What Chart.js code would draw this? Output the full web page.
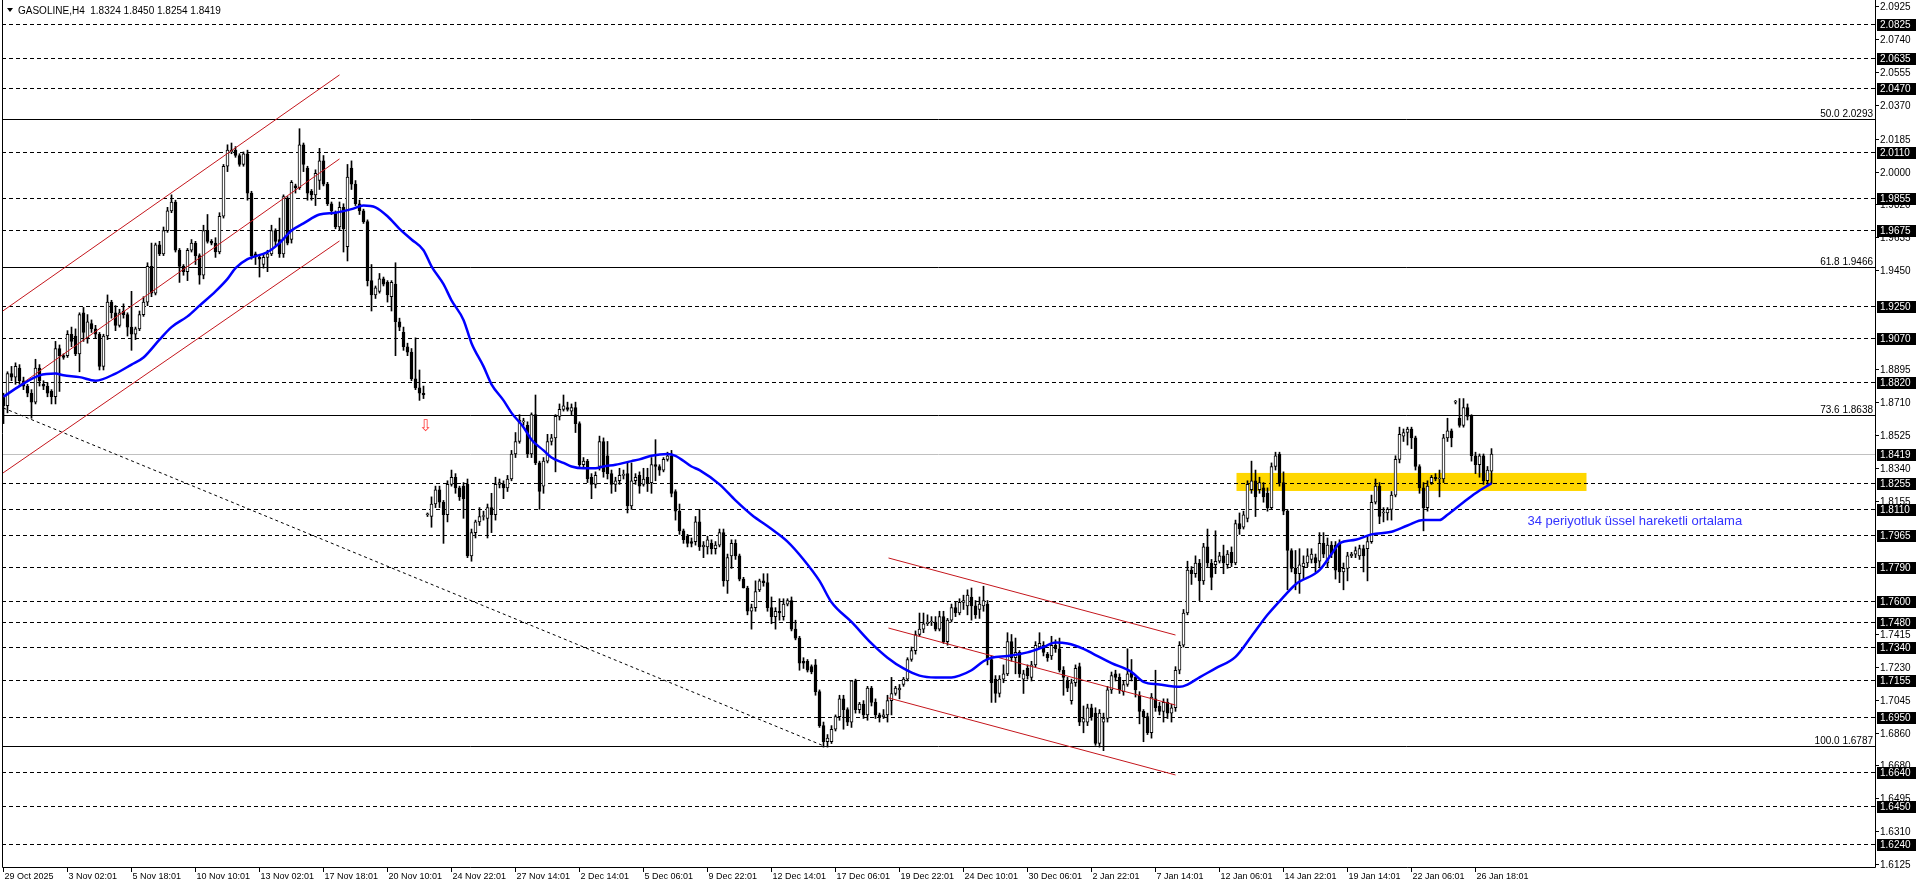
<!DOCTYPE html>
<html>
<head>
<meta charset="utf-8">
<title>GASOLINE,H4</title>
<script src="https://cdn.jsdelivr.net/npm/chart.js@4.4.1/dist/chart.umd.min.js"></script>
<style>
    html, body { margin: 0; padding: 0; background: #ffffff; }
    canvas { display: block; }
</style>
</head>
<body>
<canvas id="priceChart" width="1916" height="888"></canvas>
<script>
// H4 candles (bar 0 = 29 Oct 2025)
const opens = [
    1.874,1.869,1.887,1.885,1.890,1.883,1.880,1.876,1.871,1.890,
    1.881,1.880,1.877,1.874,1.901,1.897,1.897,1.909,1.908,1.898,
    1.921,1.907,1.915,1.912,1.909,1.891,1.908,1.927,1.921,1.914,
    1.922,1.920,1.913,1.909,1.912,1.920,1.927,1.947,1.932,1.959,
    1.954,1.967,1.978,1.983,1.956,1.947,1.944,1.956,1.960,1.953,
    1.942,1.967,1.961,1.960,1.955,1.975,2.003,2.011,2.012,2.009,
    2.004,2.010,1.988,1.954,1.952,1.948,1.952,1.954,1.967,1.962,
    1.954,1.985,1.962,1.992,1.991,2.015,2.002,1.989,1.987,1.995,
    2.006,1.993,1.982,1.977,1.969,1.980,1.958,2.002,1.993,1.982,
    1.978,1.972,1.939,1.931,1.933,1.940,1.938,1.930,1.937,1.916,
    1.910,1.902,1.899,1.884,1.879,1.876,1.808,1.807,1.814,1.822,
    1.815,1.808,1.825,1.829,1.823,1.824,1.825,1.785,1.798,1.804,
    1.807,1.806,1.812,1.808,1.825,1.825,1.823,1.828,1.842,1.849,
    1.860,1.858,1.842,1.864,1.837,1.824,1.838,1.849,1.851,1.863,
    1.867,1.868,1.866,1.868,1.859,1.836,1.838,1.829,1.825,1.835,
    1.849,1.841,1.831,1.825,1.827,1.830,1.831,1.813,1.827,1.830,
    1.825,1.829,1.826,1.836,1.835,1.833,1.839,1.841,1.821,1.810,
    1.799,1.796,1.793,1.793,1.804,1.790,1.790,1.792,1.789,1.791,
    1.798,1.771,1.785,1.792,1.785,1.772,1.767,1.754,1.756,1.766,
    1.771,1.770,1.756,1.751,1.754,1.751,1.758,1.760,1.744,1.739,
    1.726,1.726,1.723,1.724,1.709,1.690,1.681,1.681,1.688,1.695,
    1.705,1.699,1.692,1.715,1.699,1.702,1.696,1.711,1.703,1.696,
    1.695,1.696,1.704,1.708,1.710,1.713,1.716,1.727,1.732,1.741,
    1.744,1.747,1.748,1.748,1.744,1.751,1.737,1.749,1.756,1.753,
    1.759,1.757,1.762,1.757,1.755,1.757,1.758,1.727,1.716,1.708,
    1.716,1.719,1.737,1.728,1.731,1.716,1.722,1.717,1.724,1.734,
    1.735,1.730,1.729,1.735,1.733,1.721,1.715,1.704,1.714,1.723,
    1.692,1.692,1.700,1.697,1.680,1.692,1.694,1.710,1.719,1.717,
    1.709,1.713,1.720,1.717,1.707,1.698,1.695,1.686,1.705,1.701,
    1.698,1.703,1.697,1.700,1.721,1.735,1.753,1.777,1.775,1.781,
    1.771,1.790,1.781,1.780,1.782,1.785,1.780,1.787,1.781,1.803,
    1.801,1.806,1.822,1.827,1.822,1.823,1.820,1.812,1.835,1.842,
    1.826,1.810,1.788,1.778,1.775,1.779,1.781,1.783,1.784,1.782,
    1.792,1.781,1.791,1.791,1.792,1.776,1.778,1.785,1.786,1.785,
    1.789,1.789,1.793,1.815,1.824,1.809,1.809,1.811,1.819,1.839,
    1.852,1.854,1.856,1.851,1.835,1.823,1.812,1.826,1.829,1.828,
    1.828,1.851,1.855,1.871,1.862,1.858,1.868,1.863,1.841,1.836,
    1.841,1.827,1.8324
];
const highs = [
    1.876,1.888,1.891,1.893,1.892,1.885,1.881,1.878,1.895,1.892,
    1.883,1.882,1.878,1.905,1.903,1.898,1.911,1.913,1.912,1.921,
    1.924,1.920,1.917,1.914,1.910,1.909,1.931,1.928,1.925,1.923,
    1.926,1.921,1.933,1.913,1.922,1.930,1.949,1.960,1.960,1.961,
    1.969,1.980,1.987,1.984,1.957,1.948,1.957,1.962,1.961,1.954,
    1.970,1.976,1.962,1.963,1.977,2.004,2.015,2.016,2.014,2.010,
    2.011,2.012,1.989,1.955,1.953,1.954,1.956,1.970,1.968,1.974,
    1.987,1.986,1.995,1.993,2.024,2.016,2.003,1.990,2.001,2.013,
    2.009,1.994,1.983,1.978,1.983,1.982,2.004,2.006,1.995,1.984,
    1.979,1.973,1.948,1.936,1.943,1.941,1.939,1.939,1.949,1.918,
    1.913,1.904,1.901,1.907,1.889,1.880,1.809,1.818,1.824,1.824,
    1.816,1.827,1.833,1.831,1.824,1.826,1.828,1.800,1.805,1.812,
    1.810,1.814,1.820,1.829,1.828,1.827,1.830,1.844,1.854,1.864,
    1.862,1.860,1.865,1.875,1.838,1.840,1.853,1.853,1.864,1.870,
    1.875,1.871,1.870,1.871,1.860,1.840,1.839,1.831,1.832,1.852,
    1.851,1.849,1.833,1.829,1.834,1.833,1.837,1.837,1.831,1.832,
    1.834,1.834,1.840,1.850,1.836,1.840,1.843,1.844,1.822,1.814,
    1.800,1.797,1.795,1.807,1.811,1.793,1.796,1.794,1.793,1.800,
    1.800,1.786,1.794,1.794,1.786,1.773,1.768,1.758,1.771,1.772,
    1.775,1.775,1.762,1.756,1.761,1.761,1.761,1.762,1.749,1.740,
    1.728,1.727,1.724,1.727,1.710,1.692,1.685,1.690,1.696,1.707,
    1.707,1.700,1.715,1.716,1.703,1.704,1.712,1.712,1.705,1.697,
    1.699,1.707,1.717,1.712,1.713,1.717,1.728,1.734,1.743,1.753,
    1.753,1.752,1.751,1.751,1.754,1.754,1.750,1.758,1.759,1.761,
    1.763,1.766,1.767,1.760,1.762,1.768,1.760,1.729,1.718,1.718,
    1.724,1.742,1.741,1.739,1.732,1.721,1.724,1.726,1.737,1.742,
    1.737,1.731,1.740,1.738,1.739,1.723,1.717,1.716,1.724,1.725,
    1.701,1.702,1.702,1.700,1.699,1.697,1.712,1.720,1.721,1.719,
    1.715,1.733,1.727,1.718,1.709,1.699,1.697,1.708,1.721,1.703,
    1.705,1.705,1.702,1.723,1.737,1.755,1.782,1.779,1.785,1.783,
    1.792,1.800,1.783,1.799,1.787,1.791,1.788,1.790,1.805,1.809,
    1.810,1.827,1.838,1.833,1.829,1.826,1.823,1.837,1.843,1.843,
    1.832,1.811,1.789,1.788,1.789,1.785,1.789,1.789,1.786,1.798,
    1.798,1.795,1.793,1.793,1.794,1.781,1.787,1.787,1.790,1.791,
    1.791,1.796,1.819,1.828,1.826,1.812,1.812,1.821,1.841,1.857,
    1.856,1.857,1.857,1.852,1.836,1.826,1.827,1.830,1.831,1.833,
    1.853,1.862,1.856,1.872,1.873,1.873,1.870,1.864,1.843,1.842,
    1.842,1.835,1.8450
];
const lows = [
    1.859,1.865,1.883,1.881,1.881,1.878,1.874,1.862,1.870,1.880,
    1.878,1.874,1.870,1.870,1.877,1.895,1.896,1.902,1.897,1.888,
    1.905,1.904,1.910,1.907,1.889,1.889,1.906,1.918,1.911,1.913,
    1.918,1.908,1.900,1.906,1.911,1.919,1.925,1.930,1.931,1.953,
    1.953,1.966,1.977,1.955,1.938,1.942,1.939,1.955,1.948,1.937,
    1.940,1.960,1.959,1.952,1.954,1.974,2.000,2.010,2.008,2.003,
    2.003,1.984,1.951,1.948,1.941,1.946,1.944,1.953,1.958,1.952,
    1.952,1.959,1.960,1.988,1.990,2.000,1.984,1.984,1.981,1.990,
    1.992,1.981,1.976,1.968,1.967,1.955,1.950,1.990,1.981,1.976,
    1.971,1.936,1.922,1.929,1.932,1.936,1.927,1.922,1.897,1.911,
    1.900,1.897,1.883,1.878,1.872,1.873,1.807,1.801,1.812,1.812,
    1.792,1.804,1.824,1.820,1.816,1.806,1.784,1.782,1.795,1.802,
    1.805,1.795,1.798,1.805,1.823,1.817,1.821,1.827,1.840,1.848,
    1.858,1.840,1.840,1.836,1.811,1.820,1.837,1.847,1.832,1.861,
    1.866,1.866,1.864,1.854,1.835,1.834,1.826,1.817,1.823,1.833,
    1.829,1.828,1.820,1.821,1.825,1.828,1.809,1.811,1.825,1.820,
    1.824,1.821,1.820,1.827,1.830,1.832,1.838,1.818,1.805,1.797,
    1.792,1.790,1.790,1.791,1.788,1.784,1.786,1.786,1.786,1.790,
    1.768,1.764,1.778,1.783,1.771,1.767,1.752,1.744,1.754,1.765,
    1.768,1.754,1.747,1.744,1.749,1.749,1.757,1.743,1.738,1.721,
    1.722,1.720,1.719,1.707,1.689,1.678,1.678,1.680,1.687,1.693,
    1.688,1.690,1.689,1.697,1.697,1.694,1.693,1.701,1.694,1.692,
    1.694,1.692,1.696,1.707,1.705,1.712,1.715,1.726,1.730,1.740,
    1.742,1.746,1.746,1.743,1.743,1.736,1.735,1.748,1.751,1.752,
    1.755,1.752,1.749,1.750,1.750,1.754,1.724,1.703,1.703,1.706,
    1.714,1.718,1.726,1.719,1.717,1.708,1.716,1.715,1.723,1.733,
    1.729,1.726,1.727,1.731,1.720,1.707,1.709,1.702,1.712,1.690,
    1.686,1.690,1.693,1.679,1.678,1.676,1.692,1.708,1.715,1.708,
    1.707,1.712,1.715,1.706,1.691,1.681,1.685,1.683,1.698,1.696,
    1.692,1.694,1.692,1.698,1.719,1.734,1.752,1.769,1.773,1.760,
    1.769,1.779,1.766,1.775,1.781,1.775,1.778,1.779,1.780,1.797,
    1.800,1.804,1.820,1.807,1.820,1.815,1.810,1.811,1.833,1.824,
    1.808,1.766,1.776,1.766,1.764,1.772,1.779,1.781,1.776,1.779,
    1.784,1.779,1.784,1.772,1.770,1.766,1.771,1.784,1.784,1.783,
    1.776,1.771,1.792,1.814,1.803,1.804,1.805,1.805,1.818,1.837,
    1.849,1.847,1.845,1.833,1.820,1.799,1.810,1.825,1.827,1.818,
    1.826,1.849,1.846,1.870,1.857,1.857,1.861,1.838,1.831,1.829,
    1.825,1.825,1.8254
];
const closes = [
    1.869,1.887,1.885,1.891,1.883,1.880,1.876,1.871,1.890,1.883,
    1.880,1.876,1.874,1.901,1.897,1.896,1.909,1.905,1.898,1.920,
    1.910,1.916,1.912,1.909,1.891,1.908,1.927,1.921,1.914,1.921,
    1.920,1.913,1.909,1.912,1.920,1.927,1.947,1.932,1.959,1.954,
    1.967,1.978,1.983,1.956,1.947,1.944,1.956,1.960,1.953,1.942,
    1.967,1.961,1.960,1.955,1.975,2.003,2.012,2.012,2.009,2.004,
    2.010,1.988,1.953,1.953,1.951,1.952,1.954,1.967,1.961,1.954,
    1.986,1.960,1.994,1.991,2.015,2.004,1.988,1.987,1.999,2.006,
    1.993,1.982,1.978,1.969,1.980,1.968,1.997,1.993,1.982,1.978,
    1.972,1.939,1.931,1.935,1.940,1.937,1.931,1.938,1.916,1.913,
    1.902,1.899,1.884,1.879,1.876,1.875,1.808,1.814,1.822,1.815,
    1.808,1.825,1.829,1.823,1.818,1.817,1.785,1.798,1.804,1.807,
    1.807,1.812,1.808,1.825,1.826,1.823,1.828,1.842,1.849,1.861,
    1.860,1.842,1.864,1.837,1.821,1.838,1.849,1.851,1.863,1.867,
    1.869,1.867,1.868,1.859,1.836,1.838,1.828,1.825,1.830,1.849,
    1.832,1.831,1.825,1.827,1.830,1.830,1.813,1.827,1.829,1.824,
    1.828,1.826,1.836,1.835,1.833,1.839,1.841,1.820,1.810,1.799,
    1.794,1.792,1.792,1.804,1.790,1.791,1.794,1.789,1.791,1.798,
    1.771,1.784,1.792,1.785,1.772,1.767,1.754,1.756,1.765,1.771,
    1.770,1.756,1.751,1.754,1.753,1.758,1.760,1.744,1.739,1.725,
    1.725,1.721,1.720,1.709,1.690,1.681,1.683,1.688,1.695,1.705,
    1.699,1.692,1.715,1.699,1.702,1.696,1.711,1.703,1.696,1.695,
    1.696,1.704,1.708,1.711,1.711,1.716,1.727,1.732,1.741,1.744,
    1.747,1.748,1.748,1.744,1.751,1.737,1.749,1.756,1.753,1.759,
    1.760,1.763,1.757,1.752,1.758,1.760,1.727,1.714,1.708,1.716,
    1.719,1.737,1.728,1.731,1.719,1.719,1.718,1.724,1.735,1.736,
    1.731,1.728,1.735,1.733,1.721,1.717,1.711,1.714,1.722,1.692,
    1.694,1.700,1.695,1.680,1.697,1.694,1.710,1.718,1.717,1.710,
    1.713,1.719,1.717,1.710,1.698,1.695,1.686,1.706,1.700,1.698,
    1.703,1.697,1.700,1.721,1.735,1.753,1.777,1.775,1.781,1.771,
    1.790,1.781,1.773,1.782,1.785,1.781,1.786,1.781,1.803,1.800,
    1.808,1.825,1.827,1.818,1.826,1.818,1.812,1.835,1.841,1.826,
    1.810,1.788,1.778,1.775,1.780,1.781,1.785,1.786,1.781,1.792,
    1.786,1.791,1.786,1.777,1.776,1.778,1.785,1.786,1.788,1.789,
    1.785,1.793,1.815,1.824,1.807,1.809,1.811,1.819,1.839,1.853,
    1.854,1.856,1.851,1.835,1.823,1.812,1.824,1.829,1.828,1.828,
    1.851,1.855,1.851,1.871,1.858,1.868,1.863,1.841,1.836,1.841,
    1.827,1.833,1.8419
];

// 34 period EMA at these bars
const emaBars = [
    0, 4, 9, 13, 15, 19, 23, 28, 32, 35, 39, 42, 46, 49, 53, 56, 58, 61, 66, 69,
    72, 75, 79, 83, 87, 90, 93, 96, 99, 102, 105, 107, 110, 112, 115, 117, 120, 122, 125, 127,
    130, 132, 135, 137, 140, 142, 145, 148, 150, 153, 157, 159, 162, 166, 168, 172, 174, 179, 183, 187,
    192, 196, 200, 204, 207, 212, 217, 221, 225, 229, 233, 237, 239, 242, 245, 247, 251, 256, 260, 263,
    266, 270, 273, 277, 282, 285, 289, 294, 296, 299, 303, 308, 312, 316, 320, 323, 329, 332, 334, 338,
    342, 347, 351, 355, 359, 361, 365, 368, 372
];
const emaValues = [
    1.874, 1.880, 1.886, 1.887, 1.886, 1.885, 1.883, 1.887, 1.892, 1.896, 1.906, 1.913, 1.919, 1.925, 1.933, 1.940, 1.946, 1.951, 1.955, 1.960,
    1.967, 1.971, 1.976, 1.977, 1.979, 1.981, 1.980, 1.975, 1.968, 1.962, 1.956, 1.947, 1.937, 1.928, 1.917, 1.904, 1.891, 1.881, 1.872, 1.865,
    1.857, 1.850, 1.844, 1.840, 1.837, 1.835, 1.834, 1.834, 1.835, 1.836, 1.838, 1.839, 1.841, 1.842, 1.841, 1.835, 1.833, 1.825, 1.816, 1.808,
    1.800, 1.793, 1.783, 1.771, 1.759, 1.748, 1.736, 1.728, 1.722, 1.718, 1.717, 1.717, 1.718, 1.721, 1.726, 1.728, 1.729, 1.731, 1.734, 1.7365,
    1.736, 1.733, 1.7295, 1.725, 1.720, 1.7145, 1.713, 1.7117, 1.713, 1.717, 1.722, 1.7285, 1.740, 1.752, 1.762, 1.769, 1.777, 1.786, 1.792, 1.794,
    1.797, 1.7985, 1.802, 1.805, 1.805, 1.808, 1.815, 1.820, 1.8256
];

// time axis: one label every 16 bars
const timeLabels = [
    '29 Oct 2025', '3 Nov 02:01', '5 Nov 18:01', '10 Nov 10:01', '13 Nov 02:01', '17 Nov 18:01',
    '20 Nov 10:01', '24 Nov 22:01', '27 Nov 14:01', '2 Dec 14:01', '5 Dec 06:01', '9 Dec 22:01',
    '12 Dec 14:01', '17 Dec 06:01', '19 Dec 22:01', '24 Dec 10:01', '30 Dec 06:01', '2 Jan 22:01',
    '7 Jan 14:01', '12 Jan 06:01', '14 Jan 22:01', '19 Jan 14:01', '22 Jan 06:01', '26 Jan 18:01'
];
const barsPerLabel = 16;

// price scale
const priceTicks = [
    2.0925, 2.0740, 2.0555, 2.0370, 2.0185, 2.0000, 1.9820, 1.9635, 1.9450,
    1.8895, 1.8710, 1.8525, 1.8340, 1.8155, 1.7415, 1.7230, 1.7045, 1.6860,
    1.6680, 1.6495, 1.6310, 1.6125
];
const priceMin = 1.6109;
const priceMax = 2.0949;

// horizontal levels drawn on the chart
const levelLines = [
    2.0825, 2.0635, 2.0470, 2.0110, 1.9855, 1.9675, 1.9250, 1.9070, 1.8820,
    1.8255, 1.8110, 1.7965, 1.7790, 1.7600, 1.7480, 1.7340, 1.7155, 1.6950,
    1.6640, 1.6450, 1.6240
];
const fiboPercents = ['50.0', '61.8', '73.6', '100.0'];
const fiboPrices = [2.0293, 1.9466, 1.8638, 1.6787];
const bidPrice = 1.8419;

// trend lines as [bar, price] end points
const upChannel = [
    [[-0.5, 1.9215], [84, 2.0541]],
    [[-0.5, 1.8733], [84, 2.0071]],
    [[-0.5, 1.8308], [84, 1.9612]]
];
const downChannel = [
    [[221.25, 1.7838], [293, 1.7407]],
    [[221.25, 1.7446], [293, 1.7015]],
    [[221.25, 1.7055], [293, 1.6624]]
];
const fiboDiagonal = [[0, 1.8677], [205, 1.6787]];

// support zone, note and arrow
const zoneBars = [308.25, 395.75];
const zonePrices = [1.8213, 1.8314];
const emaNote = '34 periyotluk üssel hareketli ortalama';
const emaNoteAt = [381, 1.804];
const arrowAt = [105.5, 1.857];

const symbolTitle = 'GASOLINE,H4  1.8324 1.8450 1.8254 1.8419';

// ---------------------------------------------------------------

const bars = closes.map((c, i) => i);
const wickData = bars.map(i => ({ x: i, y: [lows[i], highs[i]] }));
const bodyData = bars.map(i => ({ x: i, y: [Math.min(opens[i], closes[i]), Math.max(opens[i], closes[i])] }));
const bodyColors = bars.map(i => closes[i] >= opens[i] ? '#ffffff' : '#000000');
const emaData = emaBars.map((b, k) => ({ x: b, y: emaValues[k] }));

function lineSet(points, color, dash) {
    return {
        type: 'line',
        data: points.map(p => ({ x: p[0], y: p[1] })),
        borderColor: color,
        borderWidth: 1,
        borderDash: dash || [],
        pointRadius: 0,
        fill: false,
        order: 0
    };
}

const trendSets = [];
upChannel.forEach(l => trendSets.push(lineSet(l, '#c4161c')));
downChannel.forEach(l => trendSets.push(lineSet(l, '#c4161c')));
trendSets.push(lineSet(fiboDiagonal, '#000000', [3, 3]));

const FONT = '"Liberation Sans", Arial, sans-serif';

// chart furniture drawn the MT4 way
const mt4Furniture = {
    id: 'mt4Furniture',
    beforeDatasetsDraw(chart) {
        const ctx = chart.ctx;
        const a = chart.chartArea;
        const xs = chart.scales.x;
        const ys = chart.scales.y;
        ctx.save();

        // yellow zone
        const zx1 = xs.getPixelForValue(zoneBars[0]);
        const zx2 = xs.getPixelForValue(zoneBars[1]);
        const zy1 = ys.getPixelForValue(zonePrices[1]);
        const zy2 = ys.getPixelForValue(zonePrices[0]);
        ctx.fillStyle = '#ffd700';
        ctx.fillRect(zx1, zy1, zx2 - zx1, zy2 - zy1);

        ctx.lineWidth = 1;
        ctx.strokeStyle = '#000000';
        ctx.setLineDash([4, 3]);
        levelLines.forEach(function(p) {
            const py = Math.round(ys.getPixelForValue(p)) + 0.5;
            ctx.beginPath();
            ctx.moveTo(a.left, py);
            ctx.lineTo(a.right, py);
            ctx.stroke();
        });
        ctx.setLineDash([]);

        fiboPrices.forEach(function(p) {
            const py = Math.round(ys.getPixelForValue(p)) + 0.5;
            ctx.beginPath();
            ctx.moveTo(a.left, py);
            ctx.lineTo(a.right, py);
            ctx.stroke();
        });

        ctx.strokeStyle = '#c0c0c0';
        const by = Math.round(ys.getPixelForValue(bidPrice)) + 0.5;
        ctx.beginPath();
        ctx.moveTo(a.left, by);
        ctx.lineTo(a.right, by);
        ctx.stroke();

        ctx.restore();
    },
    afterDraw(chart) {
        const ctx = chart.ctx;
        const a = chart.chartArea;
        const xs = chart.scales.x;
        const ys = chart.scales.y;
        ctx.save();

        // frame
        ctx.strokeStyle = '#000000';
        ctx.lineWidth = 1;
        ctx.beginPath();
        ctx.moveTo(a.left + 0.5, 0);
        ctx.lineTo(a.left + 0.5, a.bottom + 0.5);
        ctx.lineTo(a.right + 0.5, a.bottom + 0.5);
        ctx.lineTo(a.right + 0.5, 0);
        ctx.stroke();

        // time labels
        ctx.fillStyle = '#000000';
        ctx.font = '9px ' + FONT;
        ctx.textAlign = 'left';
        ctx.textBaseline = 'middle';
        timeLabels.forEach(function(t, k) {
            const px = Math.floor(xs.getPixelForValue(k * barsPerLabel)) + 0.5;
            ctx.beginPath();
            ctx.moveTo(px, a.bottom);
            ctx.lineTo(px, a.bottom + 5);
            ctx.stroke();
            ctx.fillText(t, px + 1, a.bottom + 10);
        });

        // price ticks
        ctx.font = '10px ' + FONT;
        priceTicks.forEach(function(p) {
            const py = Math.round(ys.getPixelForValue(p)) + 0.5;
            ctx.beginPath();
            ctx.moveTo(a.right, py);
            ctx.lineTo(a.right + 4, py);
            ctx.stroke();
            ctx.fillText(p.toFixed(4), a.right + 5, py + 1);
        });

        // highlighted level labels
        levelLines.concat([bidPrice]).forEach(function(p) {
            const py = Math.round(ys.getPixelForValue(p));
            ctx.fillStyle = '#000000';
            ctx.fillRect(a.right + 2, py - 5, 39, 12);
            ctx.fillStyle = '#ffffff';
            ctx.fillText(p.toFixed(4), a.right + 5, py + 1);
        });

        // fibo captions
        ctx.fillStyle = '#000000';
        ctx.textAlign = 'right';
        ctx.textBaseline = 'bottom';
        fiboPrices.forEach(function(p, k) {
            const py = Math.round(ys.getPixelForValue(p));
            ctx.fillText(fiboPercents[k] + ' ' + p.toFixed(4), a.right - 2, py);
        });

        // title
        ctx.textAlign = 'left';
        ctx.textBaseline = 'middle';
        ctx.beginPath();
        ctx.moveTo(a.left + 5, 8);
        ctx.lineTo(a.left + 11, 8);
        ctx.lineTo(a.left + 8, 12);
        ctx.closePath();
        ctx.fill();
        ctx.font = '10px ' + FONT;
        ctx.fillText(symbolTitle, a.left + 16, 11);

        // note on the EMA
        ctx.fillStyle = '#3333ff';
        ctx.font = '13px ' + FONT;
        ctx.fillText(emaNote, xs.getPixelForValue(emaNoteAt[0]), ys.getPixelForValue(emaNoteAt[1]));

        // down arrow
        ctx.fillStyle = '#ff3b3b';
        ctx.font = '16px "DejaVu Sans", sans-serif';
        ctx.textAlign = 'center';
        ctx.fillText('\u21E9', xs.getPixelForValue(arrowAt[0]), ys.getPixelForValue(arrowAt[1]));

        ctx.restore();
    }
};

const ctx = document.getElementById('priceChart').getContext('2d');
const priceChart = new Chart(ctx, {
    type: 'bar',
    data: {
        datasets: [
            {
                type: 'line',
                label: 'EMA 34',
                data: emaData,
                borderColor: '#0000ff',
                borderWidth: 2.5,
                pointRadius: 0,
                cubicInterpolationMode: 'monotone',
                fill: false,
                order: 0
            }
        ].concat(trendSets).concat([
            {
                label: 'body',
                data: bodyData,
                backgroundColor: bodyColors,
                borderColor: '#000000',
                borderWidth: 1,
                borderSkipped: false,
                barThickness: 3,
                minBarLength: 1,
                grouped: false,
                order: 1
            },
            {
                label: 'wick',
                data: wickData,
                backgroundColor: '#000000',
                borderWidth: 0,
                barThickness: 1,
                grouped: false,
                order: 2
            }
        ])
    },
    options: {
        responsive: false,
        animation: false,
        devicePixelRatio: 1,
        events: [],
        layout: {
            padding: { left: 2, right: 41, top: 2, bottom: 21 }
        },
        plugins: {
            legend: { display: false },
            tooltip: { enabled: false }
        },
        scales: {
            x: {
                type: 'linear',
                display: false,
                offset: false,
                min: -0.375,
                max: 467.875,
                grid: { display: false, offset: false }
            },
            y: {
                type: 'linear',
                display: false,
                min: priceMin,
                max: priceMax,
                grid: { display: false }
            }
        }
    },
    plugins: [mt4Furniture]
});
</script>
</body>
</html>
